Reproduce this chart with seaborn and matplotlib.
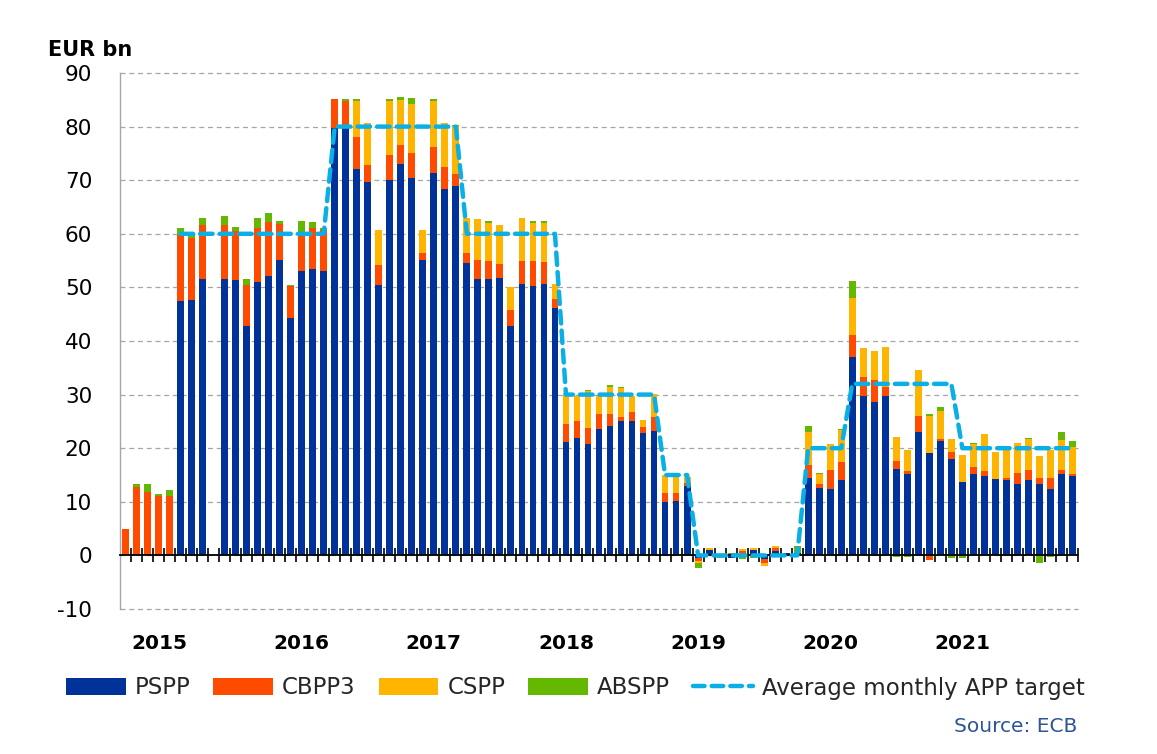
import numpy as np
import pandas as pd
import matplotlib
matplotlib.use("Agg")
import matplotlib.pyplot as plt
from matplotlib.patches import Patch
from matplotlib.lines import Line2D
import seaborn as sns

# Monthly net purchases under the APP, EUR bn
months = pd.period_range("2014-09", "2021-11", freq="M")

pspp = [0, 0, 0, 0, 0, 47.4, 47.7, 51.5, 0, 51.5,
        51.3, 42.8, 51.0, 52.1, 55.2, 44.3, 53.0, 53.5, 53.0, 79.8,
        80.2, 72.0, 69.6, 50.4, 70.0, 73.1, 70.4, 55.2, 71.4, 68.4,
        68.9, 54.5, 51.5, 51.5, 51.8, 42.8, 50.7, 50.2, 50.7, 46.2,
        21.1, 21.9, 20.8, 23.6, 24.2, 25.0, 25.0, 22.8, 23.3, 9.9,
        10.2, 13.0, -0.5, 1.0, 0.2, -0.5, 0.3, 1.0, -0.6, 0.8,
        0.5, 0.5, 14.5, 12.6, 12.3, 14.0, 37.1, 29.7, 28.7, 29.7,
        16.2, 15.2, 23.0, 19.1, 21.3, 17.9, 13.7, 15.2, 14.9, 14.3,
        14.0, 13.4, 14.0, 13.4, 12.3, 15.1, 14.8]
cbpp3 = [5.0, 12.8, 11.9, 11.0, 11.0, 12.3, 11.5, 10.1, 0, 10.1,
         9.3, 7.7, 10.1, 10.1, 6.7, 6.0, 6.7, 7.6, 7.8, 5.4,
         4.6, 6.1, 3.2, 3.7, 4.7, 3.4, 4.6, 1.2, 4.8, 4.1,
         2.2, 1.9, 3.7, 3.4, 2.6, 3.0, 4.2, 4.7, 4.0, 1.6,
         3.4, 3.1, 2.9, 2.8, 2.2, 0.9, 1.7, 1.1, 2.5, 1.8,
         1.5, 0.5, -0.6, 0, 0, 0, 0.5, 0, -0.8, 0.6,
         0, 0, 2.3, 0.8, 3.6, 3.4, 4.0, 3.6, 4.0, 1.7,
         1.4, 0.5, 3.1, -0.8, 0.4, 1.4, 0, 1.2, 0.8, 0,
         0.5, 2.0, 1.9, 1.1, 2.2, 0.8, 0.3]
cspp = [0, 0, 0, 0, 0, 0, 0, 0, 0, 0,
        0, 0, 0, 0, 0, 0, 0, 0, 0, 0,
        0, 6.6, 7.8, 6.7, 10.0, 8.4, 9.3, 4.4, 8.5, 8.1,
        9.0, 6.6, 7.5, 7.2, 7.2, 4.3, 8.1, 7.2, 7.4, 2.9,
        5.8, 4.7, 6.9, 3.4, 5.1, 5.4, 3.1, 1.4, 4.3, 3.3,
        3.2, 1.1, -0.3, 0.3, 0, 0, 0.4, 0.3, -0.6, 0.3,
        0, 0, 6.2, 1.8, 4.8, 6.0, 7.0, 5.4, 5.4, 7.5,
        4.4, 3.9, 8.4, 7.0, 5.2, 2.5, 5.0, 4.4, 7.0, 5.0,
        5.7, 5.6, 5.9, 4.0, 5.1, 5.7, 5.2]
abspp = [0, 0.5, 1.4, 0.4, 1.2, 1.4, 1.0, 1.4, 0, 1.7,
         0.7, 1.0, 1.9, 1.6, 0.5, 0.2, 2.7, 1.1, 0.3, 0,
         0.4, 0.5, 0.1, 0, 0.5, 0.6, 1.1, 0, 0.5, 0,
         0.2, -0.2, 0, 0.3, 0, 0, 0, 0.3, 0.3, 0,
         0, 0, 0.3, 0, 0.3, 0.2, 0, -0.2, 0, 0,
         0, 0, -0.9, 0, -0.4, 0.5, -0.6, -0.5, 0, 0,
         -0.2, 1.2, 1.1, 0.2, 0, 0.2, 3.1, 0, 0, 0,
         -0.3, -0.3, 0, 0.3, 0.7, -0.4, -0.5, 0.2, 0, 0,
         0, 0, 0.1, -1.5, -0.3, 1.4, 1.0]
target = [np.nan, np.nan, np.nan, np.nan, np.nan, 60, 60, 60, 60, 60,
          60, 60, 60, 60, 60, 60, 60, 60, 60, 80,
          80, 80, 80, 80, 80, 80, 80, 80, 80, 80,
          80, 60, 60, 60, 60, 60, 60, 60, 60, 60,
          30, 30, 30, 30, 30, 30, 30, 30, 30, 15,
          15, 15, 0, 0, 0, 0, 0, 0, 0, 0,
          0, 0, 20, 20, 20, 20, 32, 32, 32, 32,
          32, 32, 32, 32, 32, 32, 20, 20, 20, 20,
          20, 20, 20, 20, 20, 20, 20]

series = {"PSPP": pspp, "CBPP3": cbpp3, "CSPP": cspp, "ABSPP": abspp}
colors = {"PSPP": "#003299", "CBPP3": "#FF4B00", "CSPP": "#FFB400", "ABSPP": "#65B800"}
line_color = "#0AAFE6"
year_labels = ["2015", "2016", "2017", "2018", "2019", "2020", "2021"]

df = pd.DataFrame(series, index=months)
df["target"] = target
x = np.arange(len(df))

sns.set_theme(style="white")
plt.rcParams["font.family"] = ["DejaVu Sans"]
plt.rcParams["axes.unicode_minus"] = False

fig = plt.figure(figsize=(11.57, 7.54), dpi=100)
ax = fig.add_axes([120 / 1157, 1 - 609 / 754, 958 / 1157, 536 / 754])

# stacked bars, negatives stacked downward from zero (Excel style)
pos_base = np.zeros(len(df))
neg_base = np.zeros(len(df))
for name in series:
    vals = df[name].to_numpy(dtype=float)
    bottom = np.where(vals >= 0, pos_base, neg_base)
    ax.bar(x, vals, bottom=bottom, width=0.62, color=colors[name],
           linewidth=0, zorder=2)
    pos_base = pos_base + np.clip(vals, 0, None)
    neg_base = neg_base + np.clip(vals, None, 0)

sns.lineplot(x=x, y=df["target"].to_numpy(), ax=ax, color=line_color,
             linewidth=3.2, linestyle=(0, (2.8, 1.6)), dash_capstyle="round",
             zorder=4)

ax.set_xlim(-0.5, len(df) - 0.5)
ax.set_ylim(-10, 90)
ax.set_yticks(range(-10, 91, 10))
ax.tick_params(axis="y", length=0, pad=20, labelsize=15.5, labelcolor="black")

ax.set_xticks(np.arange(0.5, len(df), 1.0))
ax.set_xticklabels([])
ax.tick_params(axis="x", direction="inout", length=10, width=1.2,
               color="black", bottom=True)

ax.yaxis.grid(True, color="#A6A6A6", linestyle=(0, (4, 3)), linewidth=0.9)
ax.xaxis.grid(False)
ax.set_axisbelow(True)
for gl in ax.get_ygridlines():
    gl.set_clip_on(False)

for side in ["top", "right"]:
    ax.spines[side].set_visible(False)
ax.spines["left"].set_color("#A6A6A6")
ax.spines["left"].set_linewidth(1.0)
ax.spines["bottom"].set_position(("data", 0))
ax.spines["bottom"].set_color("black")
ax.spines["bottom"].set_linewidth(1.3)
ax.spines["bottom"].set_zorder(3)

# year labels under the January of each year
trans = ax.get_xaxis_transform()
for yr in year_labels:
    pos = df.index.get_loc(pd.Period(f"{yr}-01", freq="M"))
    if yr == "2015":
        pos -= 0.9
    ax.text(pos, -0.064, yr, transform=trans, ha="center", va="center",
            fontsize=14.5, fontweight="bold", color="black", clip_on=False)

fig.text(48 / 1157, 1 - 50 / 754, "EUR bn", ha="left", va="center",
         fontsize=15, fontweight="bold", color="black")

handles = [Patch(facecolor=colors[n], edgecolor="none") for n in series]
handles.append(Line2D([0], [0], color=line_color, linewidth=3.2,
                      linestyle=(0, (2.6, 1.6)), dash_capstyle="round"))
labels = list(series) + ["Average monthly APP target"]
fig.legend(handles, labels, loc="center left", ncol=5, frameon=False,
           bbox_to_anchor=(66 / 1157, 1 - 688 / 754), borderaxespad=0,
           borderpad=0, fontsize=16.5, handlelength=2.6, handleheight=0.75,
           handletextpad=0.4, columnspacing=1.0)

fig.text(1077 / 1157, 1 - 727 / 754, "Source: ECB", ha="right", va="center",
         fontsize=14.5, color="#2F5597")

fig.savefig("out.png", dpi=100, facecolor="white")
